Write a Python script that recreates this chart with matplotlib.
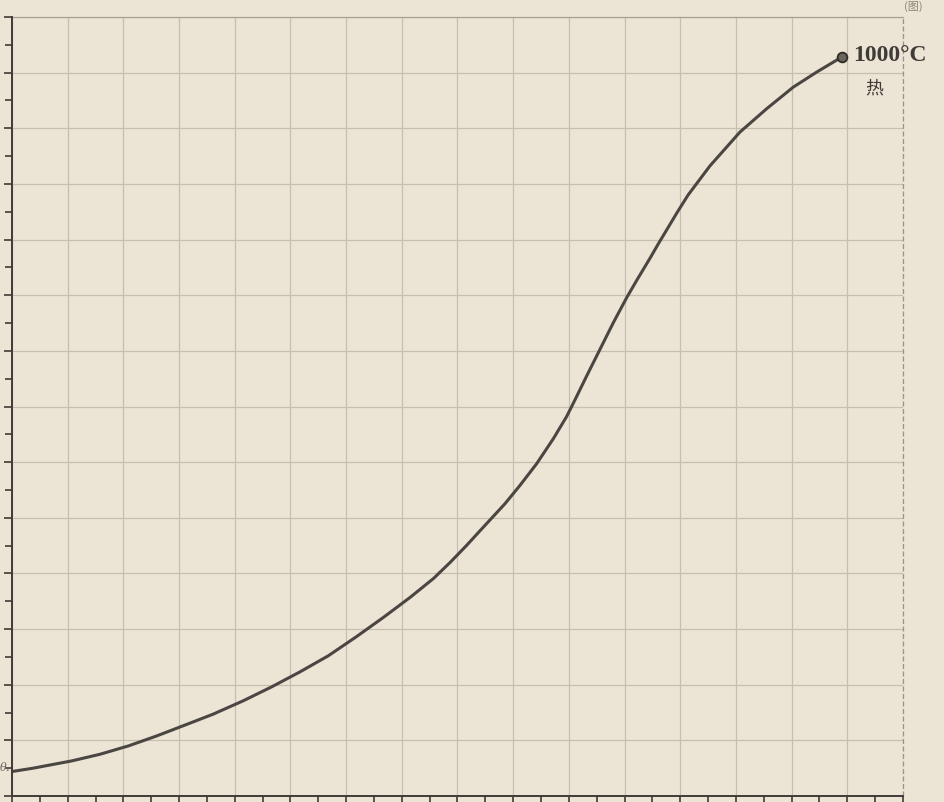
import matplotlib.pyplot as plt
from matplotlib.ticker import MultipleLocator

# curve (grid units)
temp_x = [0.0, 0.38, 1.07, 1.58, 2.09, 2.60, 3.12, 3.61, 4.15, 4.66, 5.17,
          5.68, 6.18, 6.67, 7.15, 7.57, 7.87, 8.16, 8.49, 8.85, 9.12, 9.42,
          9.72, 9.96, 10.11, 10.32, 10.56, 10.80, 11.04, 11.22, 11.46, 11.61,
          11.94, 12.14, 12.53, 13.07, 13.55, 14.03, 14.45, 14.90]
temp_y = [0.44, 0.50, 0.63, 0.75, 0.90, 1.08, 1.28, 1.47, 1.71, 1.96, 2.23,
          2.52, 2.86, 3.21, 3.57, 3.91, 4.20, 4.50, 4.86, 5.25, 5.58, 5.97,
          6.42, 6.82, 7.12, 7.55, 8.03, 8.51, 8.96, 9.27, 9.67, 9.93,
          10.48, 10.80, 11.32, 11.93, 12.35, 12.74, 13.01, 13.28]
end_label = '1000°C'
end_note = '热'
start_label = 'θ₁'
corner_label = '(图)'

paper = '#ece5d6'
ink = '#3f3b36'
grid_c = '#c6beaf'

fig = plt.figure(figsize=(9.45, 8.03), dpi=100, facecolor=paper)
ax = fig.add_axes([12/945, 6/803, (903-12)/945, (797-18)/803])
ax.set_facecolor(paper)

ax.set_xlim(0, 16)
ax.set_ylim(0, 14)
ax.xaxis.set_major_locator(MultipleLocator(1))
ax.xaxis.set_minor_locator(MultipleLocator(0.5))
ax.yaxis.set_major_locator(MultipleLocator(1))
ax.yaxis.set_minor_locator(MultipleLocator(0.5))
ax.grid(True, which='major', color=grid_c, lw=0.9)
ax.set_axisbelow(True)

for s in ['top', 'right']:
    ax.spines[s].set_visible(False)
for s in ['left', 'bottom']:
    ax.spines[s].set_color(ink)
    ax.spines[s].set_linewidth(1.4)
ax.axvline(16, color='#9a9488', lw=0.9, ls=(0, (4, 2)), clip_on=False)
ax.axhline(14, color='#a8a193', lw=0.9, clip_on=False)

ax.tick_params(which='both', direction='out', color=ink, width=1.2)
ax.tick_params(which='major', length=6)
ax.tick_params(which='minor', length=5)
ax.set_xticklabels([])
ax.set_yticklabels([])

ax.plot(temp_x, temp_y, color='#4a4641', lw=2.2, solid_capstyle='round',
        solid_joinstyle='round')
ax.plot(temp_x[-1], temp_y[-1], 'o', ms=7, mfc='#6a655d', mec='#2f2c28', mew=1.3)

ax.text(temp_x[-1] + 0.2, temp_y[-1] + 0.05, end_label, fontsize=17,
        family='Liberation Serif', weight='bold', color=ink, va='center', ha='left')
ax.text(temp_x[-1] + 0.42, temp_y[-1] - 0.55, end_note, fontsize=13,
        family=['Noto Sans CJK SC', 'DejaVu Sans'], color=ink, va='center', ha='left')
fig.text(0.0, (803-768)/803, start_label, fontsize=8, family='DejaVu Serif', style='italic',
         color='#6a655d', va='center', ha='left')
fig.text(0.957, 0.999, corner_label, fontsize=8, family=['Noto Sans CJK SC', 'DejaVu Sans'],
         color='#8a8478', va='top', ha='left')

fig.savefig('out.png', dpi=100, facecolor=paper)
